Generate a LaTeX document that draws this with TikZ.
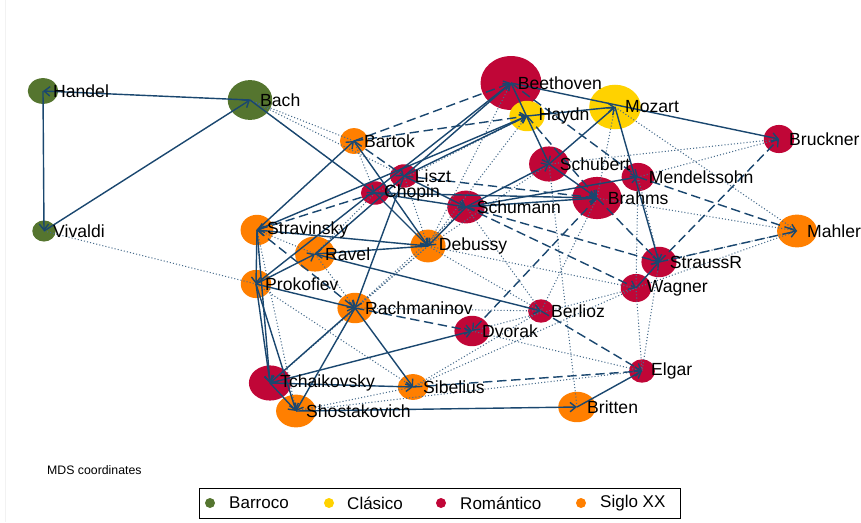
\documentclass[tikz,border=0pt]{standalone}
\usepackage{fontspec}
\setmainfont{Liberation Sans}
\usetikzlibrary{shapes.geometric,positioning,arrows.meta}
\definecolor{barroco}{RGB}{85,117,47}
\definecolor{clasico}{RGB}{255,210,0}
\definecolor{romantico}{RGB}{192,6,55}
\definecolor{sigloxx}{RGB}{255,127,0}
\definecolor{edge}{RGB}{26,71,111}
\begin{document}
\begin{tikzpicture}[x=0.03cm,y=-0.03cm,
		comp/.style={
		  ellipse,
		  inner sep=0pt
		},
		lab/.style={
		  inner sep=0pt,
		  font=\fontsize{15}{18}\selectfont
		},
		tie/.style={
		  draw=edge,
		  line width=1.2pt,
		  -{Straight Barb[length=5pt,width=8pt]}
		},
		weak/.style={tie, dash pattern=on 8pt off 4pt},
		faint/.style={
		  draw=edge!80,
		  line width=0.9pt,
		  dash pattern=on 0.9pt off 1.8pt
		},
		key/.style={circle, inner sep=0pt, minimum size=0.3cm},
		keytxt/.style={inner sep=0pt, font=\fontsize{14.5}{17}\selectfont}
		]
		\useasboundingbox (0,0) rectangle (861,522);
		\draw[black!5] (5,0) -- (5,522);

		% composers
		\node[comp,fill=barroco,minimum width=26,minimum height=22] (han) at (43,91) {};
		\node[comp,fill=barroco,minimum width=38,minimum height=34] (bach) at (250,100) {};
		\node[comp,fill=barroco,minimum width=20,minimum height=18] (viv) at (44,231) {};
		\node[comp,fill=sigloxx,minimum width=24,minimum height=22] (bart) at (354,141) {};
		\node[comp,fill=romantico,minimum width=52,minimum height=46] (beet) at (511,83) {};
		\node[comp,fill=clasico,minimum width=30,minimum height=26] (hay) at (527,116) {};
		\node[comp,fill=clasico,minimum width=44,minimum height=38] (moz) at (615,107) {};
		\node[comp,fill=romantico,minimum width=26,minimum height=24] (bruck) at (779,139) {};
		\node[comp,fill=romantico,minimum width=24,minimum height=20] (liszt) at (404,176) {};
		\node[comp,fill=romantico,minimum width=24,minimum height=20] (chop) at (375,193) {};
		\node[comp,fill=romantico,minimum width=34,minimum height=30] (schub) at (549,164) {};
		\node[comp,fill=romantico,minimum width=28,minimum height=24] (mend) at (638,177) {};
		\node[comp,fill=romantico,minimum width=32,minimum height=28] (schum) at (466,207) {};
		\node[comp,fill=romantico,minimum width=42,minimum height=36] (brahms) at (597,198) {};
		\node[comp,fill=sigloxx,minimum width=34,minimum height=28] (mahler) at (797,231) {};
		\node[comp,fill=sigloxx,minimum width=28,minimum height=26] (strav) at (257,230) {};
		\node[comp,fill=sigloxx,minimum width=34,minimum height=30] (ravel) at (315,254) {};
		\node[comp,fill=sigloxx,minimum width=30,minimum height=28] (deb) at (428,246) {};
		\node[comp,fill=romantico,minimum width=30,minimum height=26] (strauss) at (659,262) {};
		\node[comp,fill=romantico,minimum width=26,minimum height=24] (wag) at (636,288) {};
		\node[comp,fill=sigloxx,minimum width=26,minimum height=24] (prok) at (256,284) {};
		\node[comp,fill=sigloxx,minimum width=30,minimum height=26] (rach) at (355,308) {};
		\node[comp,fill=romantico,minimum width=22,minimum height=20] (berl) at (541,311) {};
		\node[comp,fill=romantico,minimum width=30,minimum height=26] (dvor) at (472,331) {};
		\node[comp,fill=romantico,minimum width=22,minimum height=20] (elgar) at (642,371) {};
		\node[comp,fill=romantico,minimum width=36,minimum height=30] (tchai) at (270,383) {};
		\node[comp,fill=sigloxx,minimum width=26,minimum height=22] (sib) at (413,387) {};
		\node[comp,fill=sigloxx,minimum width=34,minimum height=28] (shost) at (296,411) {};
		\node[comp,fill=sigloxx,minimum width=32,minimum height=26] (britt) at (577,407) {};

		% weak ties
		\draw[faint] (bach.center) -- (bart.center);
		\draw[faint] (bach.center) -- (liszt.center);
		\draw[faint] (bach.center) -- (chop.center);
		\draw[faint] (viv.center) -- (prok.center);
		\draw[faint] (moz.center) -- (mahler.center);
		\draw[faint] (bruck.center) -- (mend.center);
		\draw[faint] (bruck.center) -- (schub.center);
		\draw[faint] (brahms.center) -- (mahler.center);
		\draw[faint] (wag.center) -- (mahler.center);
		\draw[faint] (wag.center) -- (elgar.center);
		\draw[faint] (strauss.center) -- (elgar.center);
		\draw[faint] (schub.center) -- (britt.center);
		\draw[faint] (berl.center) -- (sib.center);
		\draw[faint] (wag.center) -- (dvor.center);
		\draw[faint] (dvor.center) -- (elgar.center);
		\draw[faint] (deb.center) -- (wag.center);
		\draw[faint] (deb.center) -- (berl.center);
		\draw[faint] (shost.center) -- (sib.center);
		\draw[faint] (prok.center) -- (sib.center);
		\draw[faint] (rach.center) -- (deb.center);
		\draw[faint] (rach.center) -- (berl.center);
		\draw[faint] (strav.center) -- (shost.center);
		\draw[faint] (strav.center) -- (ravel.center);
		\draw[faint] (ravel.center) -- (rach.center);
		\draw[faint] (hay.center) -- (deb.center);
		\draw[faint] (beet.center) -- (deb.center);
		\draw[faint] (schub.center) -- (deb.center);
		\draw[faint] (schum.center) -- (rach.center);
		\draw[faint] (mend.center) -- (wag.center);
		\draw[faint] (brahms.center) -- (berl.center);
		\draw[faint] (chop.center) -- (ravel.center);
		\draw[faint] (liszt.center) -- (deb.center);
		\draw[faint] (hay.center) -- (chop.center);
		\draw[faint] (moz.center) -- (brahms.center);
		\draw[faint] (mend.center) -- (strauss.center);
		\draw[faint] (schum.center) -- (berl.center);
		\draw[faint] (sib.center) -- (wag.center);
		\draw[faint] (shost.center) -- (elgar.center);
		\draw[faint] (bart.center) -- (chop.center);
		\draw[faint] (tchai.center) -- (deb.center);
		\draw[faint] (strauss.center) -- (mahler.center);

		% dashed ties
		\draw[weak] (bart.center) -- (beet.center);
		\draw[weak] (bart.center) -- (hay.center);
		\draw[weak] (bart.center) -- (liszt.center);
		\draw[weak] (chop.center) -- (strav.center);
		\draw[weak] (strav.center) -- (rach.center);
		\draw[weak] (rach.center) -- (dvor.center);
		\draw[weak] (brahms.center) -- (dvor.center);
		\draw[weak] (beet.center) -- (mend.center);
		\draw[weak] (hay.center) -- (brahms.center);
		\draw[weak] (mend.center) -- (mahler.center);
		\draw[weak] (strauss.center) -- (bruck.center);
		\draw[weak] (strauss.center) -- (mahler.center);
		\draw[weak] (schum.center) -- (strauss.center);
		\draw[weak] (brahms.center) -- (strauss.center);
		\draw[weak] (schum.center) -- (wag.center);
		\draw[weak] (berl.center) -- (elgar.center);
		\draw[weak] (sib.center) -- (elgar.center);
		\draw[weak] (liszt.center) -- (brahms.center);

		% strong ties
		\draw[tie] (bach.center) -- (han.center);
		\draw[tie] (han.center) -- (viv.center);
		\draw[tie] (viv.center) -- (bach.center);
		\draw[tie] (bach.center) -- (chop.center);
		\draw[tie] (strav.center) -- (bart.center);
		\draw[tie] (bart.center) -- (deb.center);
		\draw[tie] (ravel.center) -- (beet.center);
		\draw[tie] (prok.center) -- (beet.center);
		\draw[tie] (beet.center) -- (schub.center);
		\draw[tie] (beet.center) -- (bruck.center);
		\draw[tie] (hay.center) -- (moz.center);
		\draw[tie] (liszt.center) -- (hay.center);
		\draw[tie] (strav.center) -- (hay.center);
		\draw[tie] (schub.center) -- (moz.center);
		\draw[tie] (moz.center) -- (strauss.center);
		\draw[tie] (schub.center) -- (brahms.center);
		\draw[tie] (schum.center) -- (schub.center);
		\draw[tie] (schum.center) -- (mend.center);
		\draw[tie] (schum.center) -- (brahms.center);
		\draw[tie] (chop.center) -- (brahms.center);
		\draw[tie] (liszt.center) -- (schum.center);
		\draw[tie] (chop.center) -- (schum.center);
		\draw[tie] (chop.center) -- (deb.center);
		\draw[tie] (liszt.center) -- (rach.center);
		\draw[tie] (schum.center) -- (deb.center);
		\draw[tie] (deb.center) -- (strav.center);
		\draw[tie] (deb.center) -- (ravel.center);
		\draw[tie] (ravel.center) -- (berl.center);
		\draw[tie] (prok.center) -- (ravel.center);
		\draw[tie] (prok.center) -- (rach.center);
		\draw[tie] (strav.center) -- (prok.center);
		\draw[tie] (strav.center) -- (tchai.center);
		\draw[tie] (prok.center) -- (tchai.center);
		\draw[tie] (prok.center) -- (shost.center);
		\draw[tie] (rach.center) -- (tchai.center);
		\draw[tie] (rach.center) -- (shost.center);
		\draw[tie] (rach.center) -- (sib.center);
		\draw[tie] (tchai.center) -- (shost.center);
		\draw[tie] (tchai.center) -- (sib.center);
		\draw[tie] (tchai.center) -- (dvor.center);
		\draw[tie] (shost.center) -- (britt.center);
		\draw[tie] (britt.center) -- (elgar.center);
		\draw[tie] (wag.center) -- (strauss.center);

		% names
		\node[lab,right=0.3cm of han.center] (han-t) {Handel};
		\node[lab,right=0.3cm of bach.center] (bach-t) {Bach};
		\node[lab,right=0.27cm of viv.center] (viv-t) {Vivaldi};
		\node[lab,right=0.3cm of bart.center] (bart-t) {Bartok};
		\node[lab,right=0.2cm of beet.center] (beet-t) {Beethoven};
		\node[lab,right=0.34cm of hay.center] (hay-t) {Haydn};
		\node[lab,right=0.3cm of moz.center] (moz-t) {Mozart};
		\node[lab,right=0.3cm of bruck.center] (bruck-t) {Bruckner};
		\node[lab,right=0.32cm of liszt.center] (liszt-t) {Liszt};
		\node[lab,right=0.27cm of chop.center] (chop-t) {Chopin};
		\node[lab,right=0.32cm of schub.center] (schub-t) {Schubert};
		\node[lab,right=0.32cm of mend.center] (mend-t) {Mendelssohn};
		\node[lab,right=0.32cm of schum.center] (schum-t) {Schumann};
		\node[lab,right=0.32cm of brahms.center] (brahms-t) {Brahms};
		\node[lab,right=0.3cm of mahler.center] (mahler-t) {Mahler};
		\node[lab,right=0.3cm of strav.center] (strav-t) {Stravinsky};
		\node[lab,right=0.3cm of ravel.center] (ravel-t) {Ravel};
		\node[lab,right=0.32cm of deb.center] (deb-t) {Debussy};
		\node[lab,right=0.32cm of strauss.center] (strauss-t) {StraussR};
		\node[lab,right=0.32cm of wag.center] (wag-t) {Wagner};
		\node[lab,right=0.27cm of prok.center] (prok-t) {Prokofiev};
		\node[lab,right=0.3cm of rach.center] (rach-t) {Rachmaninov};
		\node[lab,right=0.3cm of berl.center] (berl-t) {Berlioz};
		\node[lab,right=0.3cm of dvor.center] (dvor-t) {Dvorak};
		\node[lab,right=0.27cm of elgar.center] (elgar-t) {Elgar};
		\node[lab,right=0.3cm of tchai.center] (tchai-t) {Tchaikovsky};
		\node[lab,right=0.3cm of sib.center] (sib-t) {Sibelius};
		\node[lab,right=0.3cm of shost.center] (shost-t) {Shostakovich};
		\node[lab,right=0.3cm of britt.center] (britt-t) {Britten};

		\node[anchor=west,inner sep=0pt,font=\fontsize{10.5}{12}\selectfont] (mds) at (47,470) {MDS coordinates};

		% legend
		\node[draw=black,line width=0.8pt,minimum width=14.43cm,minimum height=0.9cm] (leg) at (439.5,503) {};
		\node[key,fill=barroco] (k1) at (210,503) {};
		\node[keytxt,right=0.57cm of k1.center] (k1-t) {Barroco};
		\node[key,fill=clasico] (k2) at (329,503) {};
		\node[keytxt,right=0.54cm of k2.center] (k2-t) {Clásico};
		\node[key,fill=romantico] (k3) at (441,503) {};
		\node[keytxt,right=0.57cm of k3.center] (k3-t) {Romántico};
		\node[key,fill=sigloxx] (k4) at (581,503) {};
		\node[keytxt,right=0.57cm of k4.center] (k4-t) {Siglo XX};
	\end{tikzpicture}
\end{document}
